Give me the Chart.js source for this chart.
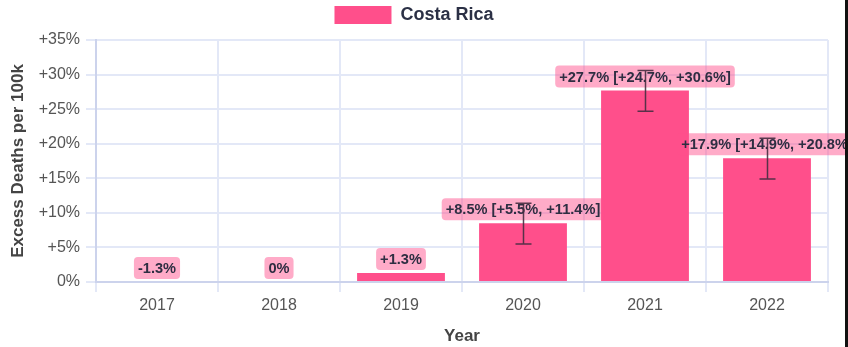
<!DOCTYPE html>
<html>
<head>
<meta charset="utf-8">
<script src="https://cdn.jsdelivr.net/npm/chart.js@4.4.0/dist/chart.umd.min.js"></script>
<style>
  html, body { margin: 0; padding: 0; background: #fff; }
  #wrap { position: relative; width: 845px; height: 347px; border-right: 3px solid #111; overflow: hidden; }
  canvas { display: block; }
</style>
</head>
<body>
<div id="wrap"><canvas id="c" width="845" height="347"></canvas></div>
<script>
const categories = ['2017', '2018', '2019', '2020', '2021', '2022'];
const excessValues = [-1.3, 0, 1.3, 8.5, 27.7, 17.9];
const lowerBounds = [null, null, null, 5.5, 24.7, 14.9];
const upperBounds = [null, null, null, 11.4, 30.6, 20.8];
const seriesName = 'Costa Rica';

const FONT = "'Liberation Sans', Arial, Helvetica, sans-serif";
const BAR_COLOR = 'rgb(255, 79, 139)';
const LABEL_BG = 'rgba(255, 79, 139, 0.48)';
const GRID = '#E3E8F7';
const AXIS = '#CCD3EC';

function fmt(v) {
  if (v === 0) return '0%';
  const s = (Math.round(v * 10) / 10).toString();
  return (v > 0 ? '+' : '') + s + '%';
}

const legendSpacer = {
  id: 'legendSpacer',
  beforeLayout(chart) {
    const lg = chart.legend;
    if (lg && !lg._patched) {
      const orig = lg.fit.bind(lg);
      lg.fit = function () { orig(); this.height += 6; };
      lg._patched = true;
    }
  }
};

const overlayPlugin = {
  id: 'overlay',
  afterDatasetsDraw(chart) {
    const ctx = chart.ctx;
    const meta = chart.getDatasetMeta(0);
    const yScale = chart.scales.y;
    const area = chart.chartArea;
    ctx.save();
    ctx.font = 'bold 14.6px ' + FONT;
    ctx.textAlign = 'center';
    ctx.textBaseline = 'middle';
    meta.data.forEach((el, i) => {
      const v = excessValues[i];
      let text = fmt(v);
      if (lowerBounds[i] !== null && upperBounds[i] !== null) {
        text += ' [' + fmt(lowerBounds[i]) + ', ' + fmt(upperBounds[i]) + ']';
      }
      const yEnd = Math.min(yScale.getPixelForValue(v), area.bottom);
      const w = ctx.measureText(text).width + 8;
      const h = 22;
      const bottom = yEnd - 3;
      const x = el.x;
      ctx.fillStyle = LABEL_BG;
      ctx.beginPath();
      ctx.roundRect(x - w / 2, bottom - h, w, h, 4);
      ctx.fill();
      ctx.fillStyle = '#2e2e42';
      ctx.fillText(text, x, bottom - h / 2 + 1);
    });
    ctx.strokeStyle = 'rgba(70, 45, 65, 0.9)';
    ctx.lineWidth = 1.5;
    meta.data.forEach((el, i) => {
      if (lowerBounds[i] === null) return;
      const x = Math.round(el.x) + 0.5;
      const yl = yScale.getPixelForValue(lowerBounds[i]);
      const yu = yScale.getPixelForValue(upperBounds[i]);
      ctx.beginPath();
      ctx.moveTo(x, yl); ctx.lineTo(x, yu);
      ctx.moveTo(x - 8, yl); ctx.lineTo(x + 8, yl);
      ctx.moveTo(x - 8, yu); ctx.lineTo(x + 8, yu);
      ctx.stroke();
    });
    ctx.restore();
  }
};

new Chart(document.getElementById('c'), {
  type: 'bar',
  data: {
    labels: categories,
    datasets: [{
      label: seriesName,
      data: excessValues,
      backgroundColor: BAR_COLOR,
      borderWidth: 0
    }]
  },
  options: {
    responsive: false,
    animation: false,
    layout: { padding: { left: 0, right: 17, top: 0, bottom: 0 } },
    plugins: {
      legend: {
        position: 'top',
        labels: {
          boxWidth: 57,
          boxHeight: 18,
          padding: 6,
          color: '#2b3045',
          font: { family: FONT, size: 18, weight: 'bold' }
        }
      },
      tooltip: { enabled: false }
    },
    scales: {
      x: {
        grid: { color: GRID, lineWidth: 2, tickLength: 10, offset: true },
        border: { color: AXIS, width: 2 },
        ticks: { color: '#555', font: { family: FONT, size: 16 }, padding: 4 },
        title: {
          display: true, text: 'Year', color: '#444',
          font: { family: FONT, size: 17, weight: 'bold' },
          padding: { top: 6, bottom: 0 }
        },
        afterFit(s) { s.height = 65; }
      },
      y: {
        min: 0, max: 35,
        grid: { color: GRID, lineWidth: 2, tickLength: 10 },
        border: { color: AXIS, width: 2 },
        ticks: {
          stepSize: 5, color: '#555', padding: 6,
          font: { family: FONT, size: 16 },
          callback: (v) => fmt(v)
        },
        title: {
          display: true, text: 'Excess Deaths per 100k', color: '#444',
          font: { family: FONT, size: 17, weight: 'bold' },
          padding: { top: 8, bottom: 4 }
        },
        afterFit(s) { s.width = 96; }
      }
    }
  },
  plugins: [legendSpacer, overlayPlugin]
});
</script>
</body>
</html>
